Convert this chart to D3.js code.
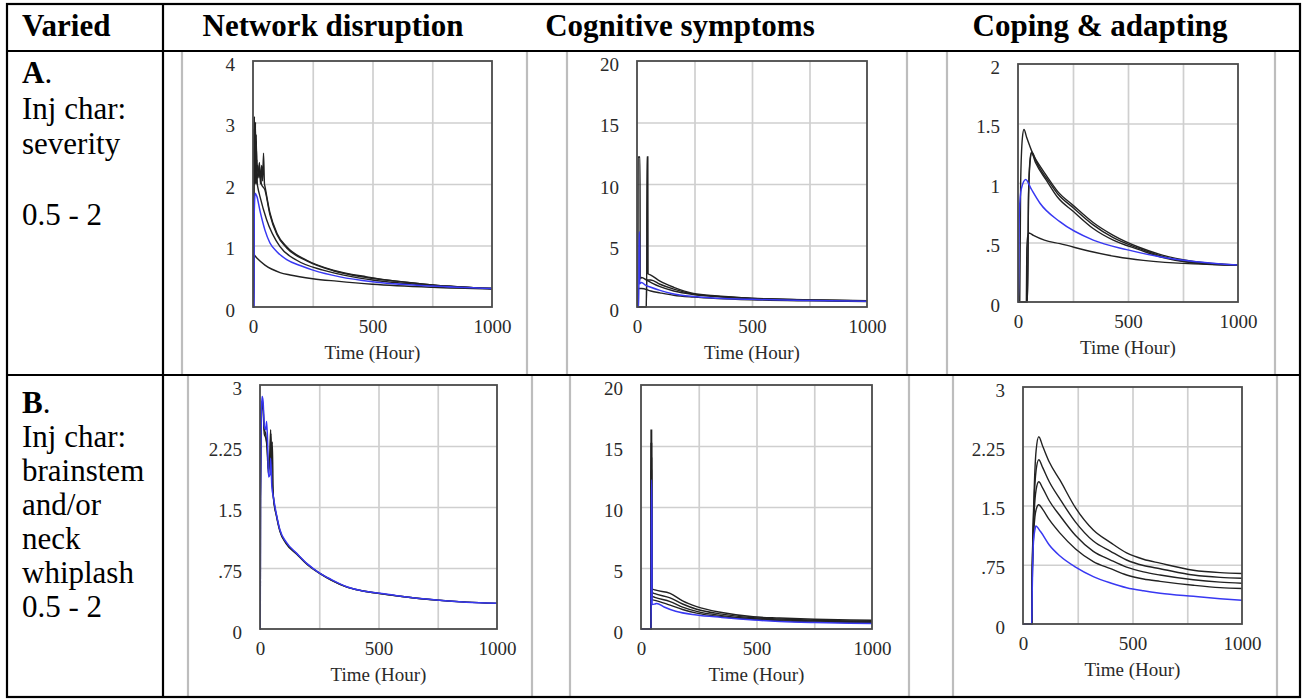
<!DOCTYPE html>
<html>
<head>
<meta charset="utf-8">
<script src="https://cdn.jsdelivr.net/npm/d3@7"></script>
<style>
html,body{margin:0;padding:0;background:#fff;}
svg{display:block;}
</style>
</head>
<body>
<script>
// ---------------- DATA ----------------
const headers = ["Varied", "Network disruption", "Cognitive symptoms", "Coping & adapting"];
const rowALabel = ["A", "Inj char:", "severity", "", "0.5 - 2"];
const rowBLabel = ["B", "Inj char:", "brainstem", "and/or", "neck", "whiplash", "0.5 - 2"];
const xTicks = [0, 500, 1000];
const xGrid = [250, 500, 750];
const xTitle = "Time (Hour)";

const yTicksNetA = [0, 1, 2, 3, 4];
const yTicksCog = [0, 5, 10, 15, 20];
const yTicksCopA = [0, 0.5, 1, 1.5, 2];
const yTicksB = [0, 0.75, 1.5, 2.25, 3];

// Row A — Network disruption
const netA_k1 = [[0,0],[2,0],[3,0.85],[15,0.8],[50,0.68],[113,0.56],[155,0.52],[250,0.46],[350,0.42],[500,0.37],[750,0.32],[1000,0.29]];
const netA_k2 = [[0,0],[2,0],[3,2.0],[4,2.9],[5,2.1],[6,3.0],[7,2.0],[8,2.9],[9,2.1],[10,3.0],[11,2.0],[12,2.8],[13,2.1],[14,2.7],[15,2.0],[16,2.4],[18,2.0],[20,1.95],[29,1.8],[57,1.42],[113,0.98],[183,0.76],[293,0.6],[418,0.49],[500,0.44],[750,0.35],[1000,0.3]];
const netA_k3 = [[0,0],[3,0],[4,2.4],[6,3.1],[8,2.3],[10,3.0],[12,2.2],[14,2.6],[17,2.1],[22,2.15],[27,2.35],[31,2.0],[36,2.3],[40,2.05],[44,2.5],[48,2.0],[50,1.96],[71,1.53],[100,1.2],[141,0.98],[225,0.76],[335,0.6],[476,0.49],[600,0.42],[750,0.36],[1000,0.3]];
const netA_k4 = [[0,0],[3,0],[4,2.9],[6,2.2],[8,2.9],[10,2.4],[13,2.8],[16,2.2],[20,2.3],[25,2.1],[30,2.2],[35,2.0],[50,1.9],[71,1.5],[100,1.18],[141,0.96],[225,0.75],[335,0.59],[476,0.48],[600,0.42],[750,0.36],[1000,0.3]];
const netA_blue = [[0,0],[4,0],[5,1.5],[9,1.85],[16,1.8],[30,1.55],[50,1.25],[71,1.04],[100,0.9],[141,0.77],[200,0.67],[251,0.6],[364,0.49],[500,0.41],[750,0.34],[1000,0.3]];

// Row A — Cognitive symptoms
const cogA_k1 = [[0,0],[4,0],[5,12.2],[13,12.2],[14,2.3],[20,2.4],[40,2.2],[70,1.9],[100,1.65],[160,1.3],[245,1.02],[350,0.85],[500,0.7],[750,0.57],[1000,0.5]];
const cogA_k2 = [[0,0],[42,0],[43,12.2],[47,12.2],[48,2.7],[60,2.6],[100,2.1],[160,1.6],[245,1.1],[350,0.9],[500,0.72],[750,0.58],[1000,0.52]];
const cogA_k3 = [[0,0],[4,0],[5,1.5],[20,1.5],[60,1.3],[100,1.15],[160,0.95],[245,0.8],[350,0.68],[500,0.58],[750,0.5],[1000,0.45]];
const cogA_k4 = [[0,0],[40,0],[42,2.2],[60,2.2],[100,1.85],[160,1.45],[245,1.05],[350,0.85],[500,0.68],[750,0.56],[1000,0.5]];
const cogA_blue = [[0,0],[8,0],[9,6.1],[11,6.1],[12,1.9],[20,2.0],[35,1.8],[60,1.6],[100,1.35],[150,1.1],[245,0.85],[350,0.72],[500,0.62],[750,0.52],[1000,0.47]];

// Row A — Coping & adapting
const copA_k1 = [[0,0],[8,0],[12,1.0],[20,1.38],[27,1.45],[40,1.38],[62,1.27],[100,1.12],[130,1.04],[180,0.91],[252,0.79],[340,0.65],[433,0.54],[550,0.45],[645,0.39],[797,0.33],[1000,0.31]];
const copA_k2 = [[0,0],[43,0],[48,0.9],[55,1.18],[62,1.25],[80,1.17],[130,1.02],[180,0.88],[252,0.76],[340,0.62],[433,0.52],[550,0.44],[645,0.38],[797,0.33],[1000,0.31]];
const copA_k3 = [[0,0],[43,0],[48,0.9],[55,1.2],[62,1.26],[80,1.2],[130,1.06],[180,0.93],[252,0.81],[340,0.67],[433,0.56],[550,0.46],[645,0.4],[797,0.34],[1000,0.31]];
const copA_k4 = [[0,0],[38,0],[40,0.45],[45,0.56],[50,0.58],[70,0.56],[120,0.52],[191,0.49],[342,0.42],[450,0.38],[570,0.35],[797,0.32],[1000,0.31]];
const copA_blue = [[0,0],[2,0],[6,0.75],[15,0.95],[35,1.03],[60,0.95],[100,0.83],[190,0.675],[342,0.52],[494,0.44],[645,0.38],[800,0.34],[1000,0.31]];

// Row B — Network disruption
const netB_k1 = [[0,0],[1,0],[2,1.6],[5,2.7],[9,2.8],[13,2.75],[18,2.45],[24,2.4],[30,2.2],[36,1.9],[42,2.2],[45,2.45],[48,2.0],[52,2.3],[56,1.63],[70,1.38],[84,1.2],[110,1.05],[155,0.92],[200,0.79],[253,0.68],[300,0.6],[366,0.515],[430,0.47],[506,0.435],[600,0.4],[745,0.355],[870,0.33],[1000,0.315]];
const netB_k2 = [[0,0],[1,0],[2,1.6],[5,2.65],[9,2.75],[13,2.7],[18,2.4],[24,2.35],[30,2.25],[36,1.95],[42,2.1],[46,2.4],[50,1.9],[56,1.64],[70,1.39],[84,1.21],[110,1.06],[155,0.925],[200,0.795],[253,0.683],[300,0.605],[366,0.518],[430,0.47],[506,0.437],[600,0.4],[745,0.356],[870,0.33],[1000,0.315]];
const netB_blue = [[0,0],[1,0],[2,1.6],[5,2.6],[9,2.86],[13,2.8],[18,2.5],[24,2.45],[28,2.55],[32,2.3],[36,1.87],[42,1.9],[45,2.1],[50,1.75],[56,1.63],[70,1.4],[84,1.22],[110,1.07],[155,0.93],[200,0.8],[253,0.685],[300,0.61],[366,0.52],[430,0.47],[506,0.44],[600,0.4],[745,0.357],[870,0.33],[1000,0.316]];

// Row B — Cognitive symptoms
const cogB_k1 = [[0,0],[43,0],[43.5,16.3],[46,16.3],[47,3.3],[60,3.2],[126,2.92],[180,2.3],[241,1.83],[350,1.35],[486,1.0],[600,0.9],[750,0.8],[905,0.74],[1000,0.72]];
const cogB_k2 = [[0,0],[43,0],[43.5,15.2],[46,15.2],[47,3.0],[60,2.9],[126,2.55],[180,2.05],[241,1.62],[350,1.22],[486,0.92],[600,0.82],[750,0.72],[905,0.66],[1000,0.64]];
const cogB_k3 = [[0,0],[43,0],[43.5,14.0],[46,14.0],[47,2.7],[60,2.6],[126,2.25],[180,1.8],[241,1.45],[350,1.1],[486,0.85],[600,0.75],[750,0.65],[905,0.6],[1000,0.58]];
const cogB_k4 = [[0,0],[43,0],[43.5,13.0],[46,13.0],[47,2.4],[60,2.35],[126,1.95],[180,1.6],[241,1.3],[350,1.0],[486,0.8],[600,0.68],[750,0.58],[905,0.53],[1000,0.51]];
const cogB_blue = [[0,0],[44,0],[45,12.2],[47,12.2],[48,2.0],[60,2.05],[68,2.1],[100,1.8],[150,1.45],[241,1.15],[350,0.95],[486,0.74],[600,0.62],[750,0.53],[905,0.47],[1000,0.45]];

// Row B — Coping & adapting
const copB_k1 = [[0,0],[40,0],[42,0.6],[50,1.6],[60,2.2],[72,2.37],[90,2.25],[120,2.05],[169,1.82],[240,1.47],[321,1.19],[400,1.03],[473,0.9],[550,0.82],[626,0.77],[778,0.68],[900,0.65],[1000,0.64]];
const copB_k2 = [[0,0],[40,0],[42,0.6],[50,1.5],[60,1.95],[72,2.08],[90,1.98],[120,1.8],[169,1.58],[240,1.29],[321,1.05],[400,0.92],[473,0.81],[550,0.74],[626,0.7],[778,0.62],[900,0.59],[1000,0.58]];
const copB_k3 = [[0,0],[40,0],[42,0.6],[50,1.35],[60,1.7],[72,1.8],[90,1.72],[120,1.56],[169,1.37],[240,1.12],[321,0.92],[400,0.81],[473,0.72],[550,0.66],[626,0.62],[778,0.56],[900,0.53],[1000,0.515]];
const copB_k4 = [[0,0],[40,0],[42,0.5],[50,1.2],[60,1.45],[72,1.51],[90,1.45],[120,1.32],[169,1.15],[240,0.95],[321,0.79],[400,0.7],[473,0.62],[550,0.57],[626,0.54],[778,0.49],[900,0.46],[1000,0.45]];
const copB_blue = [[0,0],[40,0],[42,0.4],[48,1.05],[55,1.2],[58,1.24],[80,1.17],[120,1.0],[169,0.86],[240,0.72],[321,0.6],[400,0.52],[473,0.46],[550,0.42],[626,0.39],[778,0.35],[900,0.32],[1000,0.3]];

// ---------------- LAYOUT ----------------
const W = 1304, H = 700;
const FONT = "'Liberation Serif','Times New Roman',serif";
const BLACK = "#222222", BLUE = "#3838f2";

const svg = d3.select("body").append("svg").attr("width", W).attr("height", H);
svg.append("rect").attr("width", W).attr("height", H).attr("fill", "#fff");

// grey borders of embedded screenshots
const greyA = [182, 527, 567, 907, 947, 1275];
const greyB = [188, 532, 570, 909, 953, 1277];
const gGrey = svg.append("g").attr("stroke", "#bdbdbd").attr("stroke-width", 2.2);
greyA.forEach(x => gGrey.append("line").attr("x1", x).attr("x2", x).attr("y1", 52).attr("y2", 374));
greyB.forEach(x => gGrey.append("line").attr("x1", x).attr("x2", x).attr("y1", 376).attr("y2", 696));

// table lines
const tb = {l: 7, r: 1300, t: 4, b: 697, head: 51, mid: 375, c1: 163};
const gT = svg.append("g").attr("stroke", "#000").attr("stroke-width", 2.2);
gT.append("rect").attr("x", tb.l).attr("y", tb.t).attr("width", tb.r - tb.l).attr("height", tb.b - tb.t).attr("fill", "none");
gT.append("line").attr("x1", tb.l).attr("x2", tb.r).attr("y1", tb.head).attr("y2", tb.head);
gT.append("line").attr("x1", tb.l).attr("x2", tb.r).attr("y1", tb.mid).attr("y2", tb.mid);
gT.append("line").attr("x1", tb.c1).attr("x2", tb.c1).attr("y1", tb.t).attr("y2", tb.b);

// headers
const headX = [22, 333, 680, 1100];
const headAnchor = ["start", "middle", "middle", "middle"];
headers.forEach((h, i) => {
  svg.append("text").attr("x", headX[i]).attr("y", 36).attr("text-anchor", headAnchor[i])
    .attr("font-family", FONT).attr("font-size", 31).attr("font-weight", "bold").attr("fill", "#000").text(h);
});

// row labels
function rowLabel(lines, y0, lh) {
  lines.forEach((s, i) => {
    const t = svg.append("text").attr("x", 22).attr("y", y0 + i * lh)
      .attr("font-family", FONT).attr("font-size", 31).attr("fill", "#000");
    if (i === 0) {
      t.append("tspan").attr("font-weight", "bold").text(s);
      t.append("tspan").text(".");
    } else t.text(s);
  });
}
rowLabel(rowALabel, 83, 35.5);
rowLabel(rowBLabel, 413, 34);

// panels
const fmt = d => d === 0 ? "0" : String(d).replace(/^0\./, ".");
const panels = [
  {x0: 253, x1: 492, y0: 61, y1: 307, ticks: yTicksNetA, k: [netA_k1, netA_k2, netA_k3, netA_k4], b: netA_blue},
  {x0: 637, x1: 867, y0: 61, y1: 307, ticks: yTicksCog, k: [cogA_k3, cogA_k4, cogA_k1, cogA_k2], b: cogA_blue},
  {x0: 1018, x1: 1238, y0: 64, y1: 302, ticks: yTicksCopA, k: [copA_k4, copA_k2, copA_k3, copA_k1], b: copA_blue},
  {x0: 260, x1: 497, y0: 385, y1: 629, ticks: yTicksB, k: [netB_k1, netB_k2], b: netB_blue},
  {x0: 641, x1: 872, y0: 385, y1: 629, ticks: yTicksCog, k: [cogB_k4, cogB_k3, cogB_k2, cogB_k1], b: cogB_blue},
  {x0: 1023, x1: 1242, y0: 387, y1: 624, ticks: yTicksB, k: [copB_k4, copB_k3, copB_k2, copB_k1], b: copB_blue}
];

panels.forEach((p, pi) => {
  const g = svg.append("g");
  const x = d3.scaleLinear().domain([0, 1000]).range([p.x0, p.x1]);
  const y = d3.scaleLinear().domain([0, d3.max(p.ticks)]).range([p.y1, p.y0]);
  const w = p.x1 - p.x0, h = p.y1 - p.y0;

  // grid
  g.append("g").attr("transform", `translate(0,${p.y1})`)
    .call(d3.axisBottom(x).tickValues(xGrid).tickSize(-h).tickFormat(""))
    .call(s => s.select(".domain").remove())
    .call(s => s.selectAll("line").attr("stroke", "#cfcfcf").attr("stroke-width", 1.7));
  g.append("g").attr("transform", `translate(${p.x0},0)`)
    .call(d3.axisLeft(y).tickValues(p.ticks.slice(1, -1)).tickSize(-w).tickFormat(""))
    .call(s => s.select(".domain").remove())
    .call(s => s.selectAll("line").attr("stroke", "#cfcfcf").attr("stroke-width", 1.7));

  // curves
  const clipId = "clip" + pi;
  svg.append("clipPath").attr("id", clipId).append("rect")
    .attr("x", p.x0).attr("y", p.y0 - 1).attr("width", w + 1).attr("height", h + 2);
  const line = d3.line().x(d => x(d[0])).y(d => y(d[1])).curve(d3.curveMonotoneX);
  const gc = g.append("g").attr("clip-path", `url(#${clipId})`).attr("fill", "none");
  p.k.forEach(s => gc.append("path").attr("d", line(s)).attr("stroke", BLACK).attr("stroke-width", 1.4));
  gc.append("path").attr("d", line(p.b)).attr("stroke", BLUE).attr("stroke-width", 1.5);

  // frame
  g.append("rect").attr("x", p.x0).attr("y", p.y0).attr("width", w).attr("height", h)
    .attr("fill", "none").attr("stroke", "#4a4a4a").attr("stroke-width", 1.8);

  // y labels
  g.append("g").attr("transform", `translate(${p.x0},3)`)
    .call(d3.axisLeft(y).tickValues(p.ticks).tickSize(0).tickPadding(18).tickFormat(fmt))
    .call(s => s.select(".domain").remove())
    .call(s => s.selectAll("text").attr("font-family", FONT).attr("font-size", 19).attr("fill", "#2a2a2a"));

  // x labels
  g.append("g").attr("transform", `translate(0,${p.y1})`)
    .call(d3.axisBottom(x).tickValues(xTicks).tickSize(0).tickPadding(13).tickFormat(d3.format("d")))
    .call(s => s.select(".domain").remove())
    .call(s => s.selectAll("text").attr("font-family", FONT).attr("font-size", 19).attr("fill", "#2a2a2a"));

  g.append("text").attr("x", (p.x0 + p.x1) / 2).attr("y", p.y1 + 52).attr("text-anchor", "middle")
    .attr("font-family", FONT).attr("font-size", 19).attr("fill", "#2a2a2a").text(xTitle);
});
</script>
</body>
</html>
